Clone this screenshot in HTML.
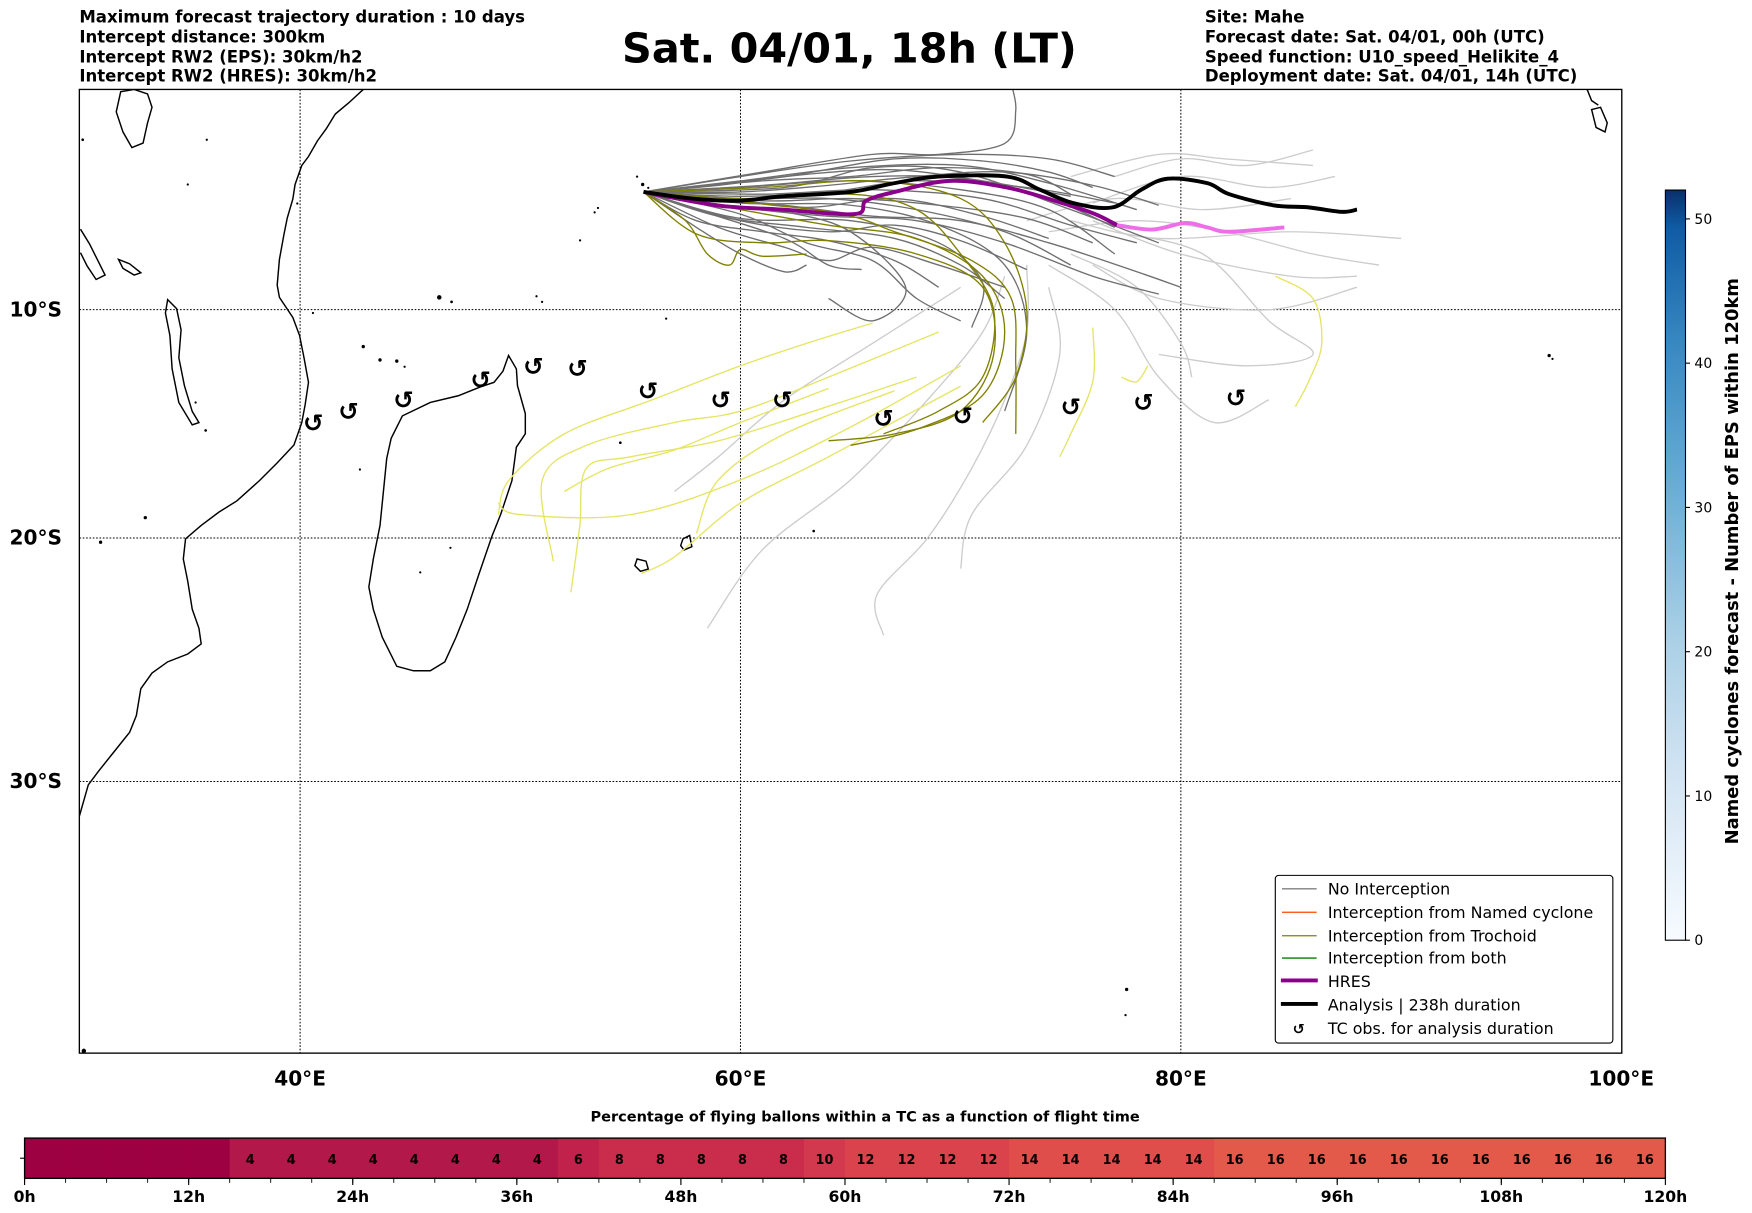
<!DOCTYPE html>
<html><head><meta charset="utf-8"><title>Balloon trajectories - Mahe</title>
<style>
html,body{margin:0;padding:0;background:#fff;}
svg{display:block;font-family:"DejaVu Sans","Liberation Sans",sans-serif;}
</style></head>
<body>
<svg id="fig" width="1752" height="1213" viewBox="0 0 1567.5 1085" preserveAspectRatio="none" xmlns="http://www.w3.org/2000/svg">
<rect x="0" y="0" width="1567.5" height="1085" fill="#fff"/>
<g font-size="14.8" font-weight="bold">
<text x="71" y="20">Maximum forecast trajectory duration : 10 days</text>
<text x="71" y="38">Intercept distance: 300km</text>
<text x="71" y="56">Intercept RW2 (EPS):  30km/h2</text>
<text x="71" y="73">Intercept RW2 (HRES): 30km/h2</text>
</g>
<text x="760" y="56" font-size="37" font-weight="bold" text-anchor="middle">Sat. 04/01, 18h (LT)</text>
<g font-size="14.8" font-weight="bold">
<text x="1078" y="20">Site: Mahe</text>
<text x="1078" y="38">Forecast date: Sat. 04/01, 00h (UTC)</text>
<text x="1078" y="56">Speed function: U10_speed_Helikite_4</text>
<text x="1078" y="73">Deployment date: Sat. 04/01, 14h (UTC)</text>
</g>
<defs><clipPath id="mapclip"><rect x="71" y="80" width="1380" height="862"/></clipPath></defs>
<g id="map" clip-path="url(#mapclip)">
<g id="coast" fill="none" stroke="#000" stroke-width="1.3">
<path d="M325,80 L312,92 300,102 292,115 284,126 276,140 270,148 264,165 262,178 257,195 254,210 250,232 248,255 250,266 262,284 268,300 272,320 276,342 273,362 270,378 263,398 248,414 232,430 212,448 196,458 180,470 166,482 164,500 168,520 172,545 178,562 180,576 168,585 150,592 136,602 126,616 122,640 116,655 100,675 88,690 79,702 71,730"/>
<path d="M108,82 L120,80 132,84 136,96 132,110 128,128 118,132 110,118 104,100 Z"/>
<path d="M72,205 L80,218 88,234 94,246 86,250 78,238 72,226"/>
<path d="M150,268 L158,276 162,295 160,320 165,345 172,368 178,378 172,380 160,360 154,330 152,300 148,280 Z"/>
<path d="M106,232 L116,236 126,244 120,246 110,240 Z"/>
<path d="M455,318 L462,330 463,345 470,370 470,388 462,400 458,430 448,460 440,480 428,515 418,545 408,570 398,592 385,600 370,600 355,596 342,570 334,545 330,525 334,500 340,470 343,440 346,410 350,392 360,372 385,360 410,354 430,346 442,342 450,332 Z"/>
<path d="M570,500 L578,502 580,509 573,511 568,506 Z"/>
<path d="M611,482 L617,479 619,489 612,492 609,488 Z"/>
<path d="M1424,98 L1432,96 1438,110 1436,118 1428,114 Z"/>
<path d="M1420,80 L1424,90 1430,94"/>
</g>
<g fill="#000">
<circle cx="575" cy="165" r="1.5"/><circle cx="570" cy="158" r="1"/><circle cx="580" cy="168" r="1"/>
<circle cx="532" cy="190" r="1"/><circle cx="535" cy="186" r="1"/><circle cx="519" cy="215" r="1"/>
<circle cx="393" cy="266" r="2"/><circle cx="404" cy="270" r="1.2"/><circle cx="480" cy="265" r="1"/><circle cx="485" cy="270" r="1"/>
<circle cx="596" cy="285" r="1"/><circle cx="325" cy="310" r="1.5"/><circle cx="340" cy="322" r="1.5"/><circle cx="355" cy="323" r="1.5"/><circle cx="362" cy="328" r="1"/>
<circle cx="322" cy="420" r="1"/><circle cx="403" cy="490" r="1"/><circle cx="376" cy="512" r="1"/><circle cx="130" cy="463" r="1.5"/><circle cx="90" cy="485" r="1.5"/>
<circle cx="1386" cy="318" r="1.5"/><circle cx="1389" cy="321" r="1"/><circle cx="1008" cy="885" r="1.5"/><circle cx="1007" cy="908" r="1"/>
<circle cx="184" cy="385" r="1.2"/><circle cx="175" cy="360" r="1"/><circle cx="728" cy="475" r="1.2"/><circle cx="555" cy="396" r="1.2"/>
<circle cx="75" cy="940" r="2"/><circle cx="74" cy="125" r="1.2"/><circle cx="168" cy="165" r="1"/><circle cx="185" cy="125" r="1"/><circle cx="266" cy="182" r="1"/><circle cx="280" cy="280" r="1"/>
</g>
<g id="grid"></g>
<g id="tracks"></g>
</g>
<rect x="71" y="80" width="1380" height="862" fill="none" stroke="#000" stroke-width="1.2"/>
<g id="axlabels" font-size="18" font-weight="bold"></g>
<g font-size="14.2">
<rect x="1141" y="783" width="302" height="150" rx="3" fill="#fff" stroke="#000" stroke-width="1"/>
<g><line x1="1147" y1="795" x2="1178" y2="795" stroke="#808080" stroke-width="1.2"/><text x="1188" y="800">No Interception</text></g>
<g><line x1="1147" y1="816" x2="1178" y2="816" stroke="#ff4500" stroke-width="1.2"/><text x="1188" y="821">Interception from Named cyclone</text></g>
<g><line x1="1147" y1="837" x2="1178" y2="837" stroke="#808000" stroke-width="1.2"/><text x="1188" y="842">Interception from Trochoid</text></g>
<g><line x1="1147" y1="857" x2="1178" y2="857" stroke="#008000" stroke-width="1.2"/><text x="1188" y="862">Interception from both</text></g>
<g><line x1="1146" y1="877" x2="1179" y2="877" stroke="#8b008b" stroke-width="3.5"/><text x="1188" y="883">HRES</text></g>
<g><line x1="1146" y1="898" x2="1179" y2="898" stroke="#000" stroke-width="3.5"/><text x="1188" y="904">Analysis | 238h duration</text></g>
<g><text x="1162" y="925" font-size="13" font-weight="bold" text-anchor="middle">↺</text><text x="1188" y="925">TC obs. for analysis duration</text></g>
</g>
<g id="cbar"></g>
<text transform="translate(1555,502) rotate(-90)" font-size="16" font-weight="bold" text-anchor="middle">Named cyclones forecast - Number of EPS within 120km</text>
<text x="774" y="1003" font-size="13" font-weight="bold" text-anchor="middle">Percentage of flying ballons within a TC as a function of flight time</text>
<g id="tbar"></g>
</svg>
<script>
// ---- map data (lon, lat) ----
const gridLons = [40, 60, 80];
const gridLats = [-10, -20, -30];
const lonTickLabels = ["40°E", "60°E", "80°E", "100°E"];
const lonTicks = [40, 60, 80, 100];
const latTickLabels = ["10°S", "20°S", "30°S"];
const analysisLon = [55.6,57.8,59.9,61.9,65.0,67.0,69.0,72.1,73.6,75.1,76.9,78.2,79.4,81.2,82.2,84.2,85.8,87.3,88.0];
const analysisLat = [-4.7,-5.0,-5.1,-4.9,-4.7,-4.3,-4.0,-4.0,-4.6,-5.2,-5.4,-4.6,-4.1,-4.3,-4.8,-5.3,-5.4,-5.6,-5.5];
const hresLon = [55.6,58.9,61.9,65.2,65.7,67.0,69.5,72.1,74.6,76.1,77.1];
const hresLat = [-4.7,-5.3,-5.5,-5.7,-5.1,-4.7,-4.2,-4.5,-5.2,-5.7,-6.2];
const hresLateLon = [77.1,78.7,80.2,81.2,82.2,84.7];
const hresLateLat = [-6.2,-6.4,-6.1,-6.3,-6.5,-6.3];
const tcObsLon = [40.6,42.2,44.7,48.2,50.6,52.6,55.8,59.1,61.9,66.5,70.1,75.0,78.3,82.5];
const tcObsLat = [-15.0,-14.5,-14.0,-13.1,-12.5,-12.6,-13.6,-14.0,-14.0,-14.8,-14.7,-14.3,-14.1,-13.9];
// ensemble tracks: flat [lon,lat,...]
const noInterceptTracks = [
 [55.6,-4.7,60,-4.0,65,-3.3,70,-3.0,74,-3.2,77,-4.0],
 [55.6,-4.7,60,-4.2,65,-3.6,70,-3.5,74,-4.3,78,-5.5],
 [55.6,-4.7,60,-4.5,65,-4.2,70,-4.6,74,-5.5,77,-7.5],
 [55.6,-4.7,60,-5.0,64,-5.0,68,-5.5,72,-6.5,75,-8.0],
 [55.6,-4.7,59,-5.8,63,-6.3,67,-6.8,70,-8.0,72,-9.5],
 [55.6,-4.7,59,-6.3,62,-7.2,64,-7.8,66,-7.2,69,-8.0,72,-9.0],
 [55.6,-4.7,60,-5.4,64,-5.8,68,-6.0,72,-7.0,76,-8.5,79,-9.3],
 [55.6,-4.7,61,-4.8,66,-4.6,71,-5.0,75,-6.2,78,-7.0],
 [55.6,-4.7,62,-4.0,67,-3.2,71,-3.3,74,-3.8,76,-4.5],
 [55.6,-4.7,60,-5.2,65,-5.3,69,-6.2,72,-8.0,73,-11.0,72,-14.5],
 [55.6,-4.7,61,-3.8,66,-3.0,69,-3.0,72,-2.5,72.5,-1.0,72.3,0.2],
 [55.6,-4.7,58,-5.5,62,-6.8,64,-8.0,65.5,-8.2],
 [55.6,-4.7,62,-5.3,66,-5.8,70,-6.0,74,-7.0,78,-8.3,80,-9.0],
 [55.6,-4.7,60,-4.9,64,-4.7,68,-4.2,73,-4.5,77,-5.2],
 [55.6,-4.7,59,-5.3,62,-5.6,65,-6.5,67.5,-9.0,66,-10.5,64,-9.5],
 [55.6,-4.7,60,-4.7,64,-4.4,68,-4.0,72,-3.8,76,-4.4,79,-5.3],
 [55.6,-4.7,58,-6.0,61,-6.5,64,-6.9,67,-7.8,69,-9.0],
 [55.6,-4.7,61,-4.4,66,-4.0,70,-4.1,74,-5.0,77,-6.3],
 [55.6,-4.7,60,-5.7,63,-7.0,66,-7.8,68,-9.5,70,-10.5],
 [55.6,-4.7,62,-4.5,66,-3.6,70,-3.8,75,-5.5,79,-7.0],
 [55.6,-4.7,59,-4.4,63,-3.9,67,-3.7,71,-4.2,75,-4.9],
 [55.6,-4.7,59,-5.0,63,-5.4,67,-5.0,71,-5.8,74,-6.8],
 [55.6,-4.7,60,-6.0,64,-6.5,67,-6.2,70,-6.9,73,-8.2],
 [55.6,-4.7,61,-5.1,65,-5.0,69,-5.3,73,-5.9,76,-7.0],
 [55.6,-4.7,58,-6.3,60,-7.5,62,-8.3,63,-8.0],
 [55.6,-4.7,61,-4.2,65,-4.0,69,-3.6,73,-3.9,75,-4.8],
 [55.6,-4.7,60,-5.9,65,-6.0,69,-7.0,71,-8.8,70.5,-10.8]
];
const lateTracks = [
 [74,-6.5,78,-6.0,82,-6.5,86,-7.5,89,-8.0],
 [76,-5.2,80,-4.0,84,-4.5,87,-4.0],
 [75,-4.0,79,-3.0,82,-3.2,86,-3.5],
 [77,-6.5,81,-7.5,84,-10.5,86,-12.0,83,-12.5,79,-12.0],
 [74,-8,77,-10.0,79,-13.0,81.5,-15.0,84,-14.0],
 [72,-8.5,71,-11,68.5,-14,65,-17.5,61,-20.5,58.5,-23.8],
 [73,-8,73,-11,72,-14,70.5,-17,68.5,-20.0,66.2,-22.4,66.5,-24.1],
 [74,-9,74.5,-12,73,-16,70.5,-19,70,-21.3],
 [76,-8,79,-9.5,84,-10.0,88,-9.0],
 [70,-9,66,-11.5,62,-14.0,59,-16.5,57,-18.0],
 [75,-6,79,-6.8,85,-6.5,90,-6.8],
 [73,-6,77,-5.0,81,-5.5,85,-5.0],
 [77,-4,80,-3.2,83,-3.5,86,-2.8],
 [75,-7.5,78,-9.0,80,-11.5,80.5,-13.0],
 [76,-6,80,-7.5,85,-8.5,88,-8.5]
];
const trochoidTracks = [
 [55.6,-4.7,57.5,-6.0,58.5,-7.5,59.5,-8.0,60,-7.3,61,-7.6,63,-7.5],
 [55.6,-4.7,60,-5.0,65,-4.8,68,-5.5,70,-7.5,71.5,-10,71,-13,69,-14.5,66.5,-15.5],
 [55.6,-4.7,61,-4.5,66,-4.2,70,-5.0,72,-7.0,73,-10,72.5,-13,71,-15],
 [55.6,-4.7,60,-5.5,64,-6.2,68,-6.8,71,-8.5,72,-11,71,-13.8,68,-15.3,65,-16.0],
 [55.6,-4.7,64,-5.6,67,-6.5,70.5,-7.8,72.3,-9.5,72.5,-12.5,72.5,-15.5],
 [55.6,-4.7,58,-6.6,61,-7.0,64,-6.9,68,-7.5,71,-9.0,71.5,-12,70,-14.5,67,-15.5,64,-15.8]
];
const farTrochoidTracks = [
 [66,-10.6,63,-11.5,60,-12.5,56,-14.0,52,-15.5,49.5,-17.5,49,-19],
 [70,-12.5,65,-15.2,60,-17.5,55,-19.0,50,-19.0,49,-18.5],
 [69,-11,64,-13,60,-14.5,57,-15.0,53,-16.0,51,-17.5,51.5,-21],
 [68,-13.0,63,-14.6,59,-15.8,55,-16.5,53,-17.0,52.7,-19.5,52.3,-22.3],
 [70,-13.4,64,-16.5,60,-18.5,57,-20.8,55.5,-21.5],
 [67,-13.6,62,-15.5,59,-17.5,58,-19.8],
 [76,-10.8,76,-13.2,75,-15.5,74.5,-16.5],
 [84.3,-8.5,86,-9.5,86.4,-11.5,85.8,-13.2,85.2,-14.3],
 [78.5,-12.5,78,-13.2,77.3,-13.0],
 [64,-13.5,60,-15.0,57,-16.2,54,-17.0,52,-18.0]
];
// ---- colorbar data ----
const cbarMax = 52;
const cbarTicks = [0, 10, 20, 30, 40, 50];
// ---- time bar data ----
const timeBarValues = [0,0,0,0,0,4,4,4,4,4,4,4,4,6,8,8,8,8,8,10,12,12,12,12,14,14,14,14,14,16,16,16,16,16,16,16,16,16,16,16];
const timeTickLabels = ["0h","12h","24h","36h","48h","60h","72h","84h","96h","108h","120h"];
const timeTickHours = [0,12,24,36,48,60,72,84,96,108,120];
const timeMaxHours = 120;

const NS = "http://www.w3.org/2000/svg";
function mk(tag, attrs, parent){const e=document.createElementNS(NS,tag);for(const k in attrs)e.setAttribute(k,attrs[k]);parent.appendChild(e);return e;}
function merc(lat){return Math.log(Math.tan(Math.PI/4+lat*Math.PI/360));}
function X(lon){return 71.5+(lon-30)*19.7;}
function Y(lat){return 277-1128.7*(merc(lat)-merc(-10));}
function pathFrom(lons,lats){
  const P=lons.map((l,i)=>[X(l),Y(lats[i])]);
  let d="M"+P[0][0].toFixed(1)+","+P[0][1].toFixed(1);
  for(let i=0;i<P.length-1;i++){
    const p0=P[i>0?i-1:0],p1=P[i],p2=P[i+1],p3=P[i+2<P.length?i+2:i+1];
    const c1x=p1[0]+(p2[0]-p0[0])/6,c1y=p1[1]+(p2[1]-p0[1])/6,c2x=p2[0]-(p3[0]-p1[0])/6,c2y=p2[1]-(p3[1]-p1[1])/6;
    d+="C"+c1x.toFixed(1)+","+c1y.toFixed(1)+" "+c2x.toFixed(1)+","+c2y.toFixed(1)+" "+p2[0].toFixed(1)+","+p2[1].toFixed(1);
  }
  return d;}
function pathFlat(a){const lo=[],la=[];for(let i=0;i<a.length;i+=2){lo.push(a[i]);la.push(a[i+1]);}return pathFrom(lo,la);}

const grid=document.getElementById('grid');
gridLons.forEach(l=>{const e=mk('line',{x1:X(l),x2:X(l),y1:80,y2:942,stroke:'#000','stroke-width':0.9,'stroke-dasharray':'1.5,1.5'},grid);

});
gridLats.forEach(l=>{const e=mk('line',{x1:71,x2:1451,y1:Y(l),y2:Y(l),stroke:'#000','stroke-width':0.9,'stroke-dasharray':'1.5,1.5'},grid);

});

const ax=document.getElementById('axlabels');
lonTicks.forEach((l,i)=>{const t=mk('text',{x:X(l),y:971,'text-anchor':'middle'},ax);t.textContent=lonTickLabels[i];

});
gridLats.forEach((l,i)=>{const t=mk('text',{x:32,y:Y(l)+6,'text-anchor':'middle'},ax);t.textContent=latTickLabels[i];

});

const tr=document.getElementById('tracks');
lateTracks.forEach(a=>{const p=mk('path',{d:pathFlat(a),fill:'none',stroke:'#cccccc','stroke-width':1.2,'stroke-linejoin':'round'},tr);

});
farTrochoidTracks.forEach(a=>{const p=mk('path',{d:pathFlat(a),fill:'none',stroke:'#e5e563','stroke-width':1.2,'stroke-linejoin':'round'},tr);

});
noInterceptTracks.forEach(a=>{const p=mk('path',{d:pathFlat(a),fill:'none',stroke:'#6f6f6f','stroke-width':1.2,'stroke-linejoin':'round'},tr);

});
trochoidTracks.forEach(a=>{const p=mk('path',{d:pathFlat(a),fill:'none',stroke:'#808000','stroke-width':1.2,'stroke-linejoin':'round'},tr);

});
let p=mk('path',{d:pathFrom(hresLon,hresLat),fill:'none',stroke:'#8b008b','stroke-width':3.5,'stroke-linejoin':'round'},tr);


p=mk('path',{d:pathFrom(hresLateLon,hresLateLat),fill:'none',stroke:'#ee6ee8','stroke-width':3.5,'stroke-linejoin':'round'},tr);


p=mk('path',{d:pathFrom(analysisLon,analysisLat),fill:'none',stroke:'#000','stroke-width':3.5,'stroke-linejoin':'round'},tr);


tcObsLon.forEach((lo,i)=>{const t=mk('text',{x:X(lo),y:Y(tcObsLat[i])+8,'text-anchor':'middle','font-size':22,'font-weight':'bold'},tr);t.textContent='↺';

});

// colorbar
const cb=document.getElementById('cbar');
const cbX=1490,cbW=18,cbTop=170,cbBot=841;
function cbY(v){return cbBot-(v/cbarMax)*(cbBot-cbTop);}
const gr=mk('linearGradient',{id:'blues',x1:0,y1:1,x2:0,y2:0},mk('defs',{},cb));
[['0','#f7fbff'],['0.2','#d6e6f4'],['0.4','#abd0e6'],['0.6','#6aaed6'],['0.8','#3787c0'],['0.95','#105ba4'],['1','#08306b']].forEach(s=>mk('stop',{offset:s[0],'stop-color':s[1]},gr));
mk('rect',{x:cbX,y:cbTop,width:cbW,height:cbBot-cbTop,fill:'url(#blues)',stroke:'#000','stroke-width':1},cb);
cbarTicks.forEach(v=>{mk('line',{x1:cbX+cbW,x2:cbX+cbW+4,y1:cbY(v),y2:cbY(v),stroke:'#000'},cb);
const t=mk('text',{x:cbX+cbW+8,y:cbY(v)+4.5,'font-size':12.5},cb);t.textContent=v;

});

// time bar
const tb=document.getElementById('tbar');
const tbL=22,tbR=1490,tbT=1018,tbB=1054;
function tX(h){return tbL+(h/timeMaxHours)*(tbR-tbL);}
const colorMap={0:'#9e0142',4:'#b3184a',6:'#c0224c',8:'#c92d4b',10:'#d2384e',12:'#da424c',14:'#df4e4b',16:'#e45a4a'};
const step=timeMaxHours/timeBarValues.length;
timeBarValues.forEach((v,i)=>{const c=mk('rect',{x:tX(i*step),y:tbT,width:tX((i+1)*step)-tX(i*step)+0.5,height:tbB-tbT,fill:colorMap[v]||'#e45a4a'},tb);


if(v>0){const t=mk('text',{x:tX((i+0.5)*step),y:tbT+23,'text-anchor':'middle','font-size':11.5,'font-weight':'bold'},tb);t.textContent=v;

}
mk('line',{x1:tX(i*step),x2:tX(i*step),y1:tbB,y2:tbB+4,stroke:'#000','stroke-width':0.8},tb);});
mk('rect',{x:tbL,y:tbT,width:tbR-tbL,height:tbB-tbT,fill:'none',stroke:'#000','stroke-width':1.2},tb);
mk('line',{x1:tbL-4,x2:tbL,y1:(tbT+tbB)/2,y2:(tbT+tbB)/2,stroke:'#000'},tb);
timeTickHours.forEach((h,i)=>{mk('line',{x1:tX(h),x2:tX(h),y1:tbB,y2:tbB+6,stroke:'#000'},tb);
const t=mk('text',{x:tX(h),y:1075,'text-anchor':'middle','font-size':14,'font-weight':'bold'},tb);t.textContent=timeTickLabels[i];

});
</script>
</body></html>
